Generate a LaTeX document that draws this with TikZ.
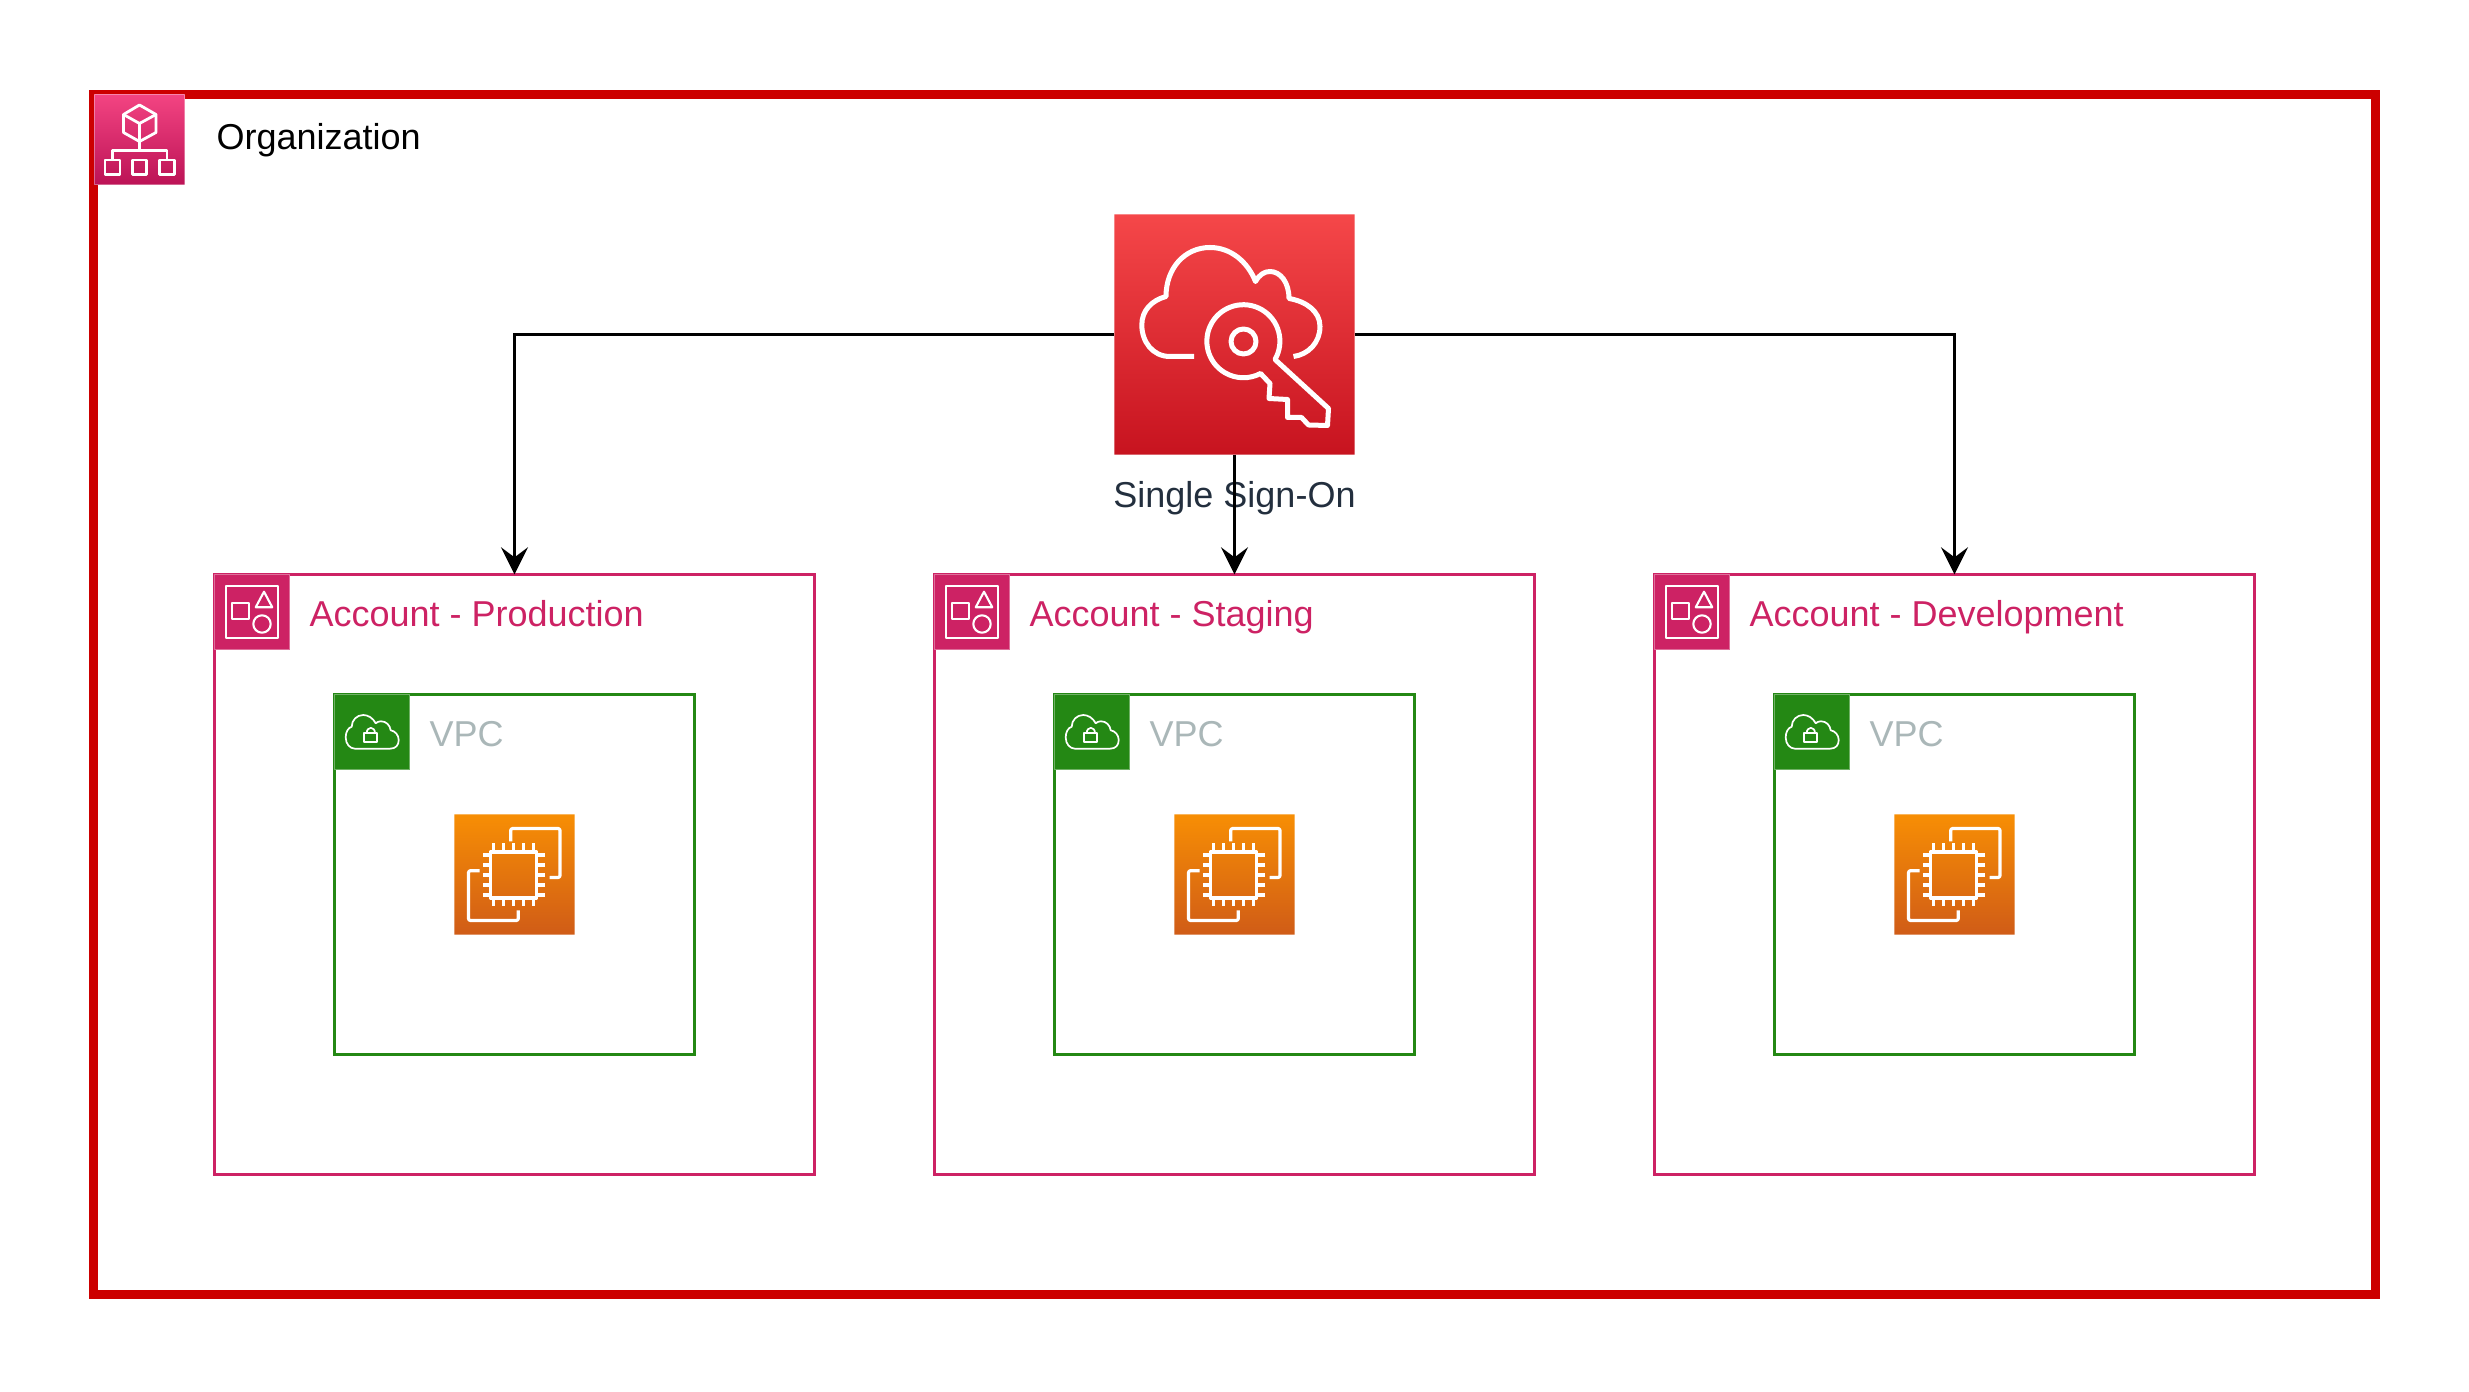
\documentclass[tikz,border=0pt]{standalone}
\usepackage{fontspec}
\setmainfont{Liberation Sans}
\usepackage{xcolor}
\usepackage{tikz}
\usetikzlibrary{arrows.meta}

\definecolor{orgred}{HTML}{CC0000}
\definecolor{acctpink}{HTML}{CD2264}
\definecolor{vpcgreen}{HTML}{248814}
\definecolor{vpcgrey}{HTML}{AAB7B8}
\definecolor{ssotext}{HTML}{232F3E}

\tikzset{
	txt/.style={inner sep=0pt,outer sep=0pt,anchor=base west,font=\fontsize{10.24}{12}\selectfont},
	frame/.style={draw,fill=white,outer sep=0pt,inner sep=0pt,line width=.03cm},
	orgbox/.style={frame,draw=orgred,line width=.09cm,minimum width=22.8cm,minimum height=12cm},
	acctbox/.style={frame,draw=acctpink,minimum size=6cm},
	vpcbox/.style={frame,draw=vpcgreen,minimum size=3.6cm},
	icon/.style={outer sep=0pt,inner sep=0pt,draw=white,draw opacity=.35,line width=.01cm},
	orgicon/.style={icon,minimum size=.9cm,top color=orgtop,bottom color=orgbot},
	ssoicon/.style={icon,minimum size=2.4cm,top color=ssotop,bottom color=ssobot},
	ec2icon/.style={icon,minimum size=1.2cm,top color=ec2top,bottom color=ec2bot},
	accticon/.style={icon,minimum size=.75cm,fill=acctpink},
	vpcicon/.style={icon,minimum size=.75cm,fill=vpcgreen},
	link/.style={draw=black,line width=.03cm,-{Stealth[length=.27cm,width=.27cm,inset=.1cm]}},
	glyph/.style={draw=white,line join=round,line width=.028cm},
	orgglyph/.pic={
		\draw[glyph] (0,-34.5) -- (16.5,-25) -- (16.5,-7) -- (0,2) -- (-16,-7) -- (-16,-25) -- cycle;
		\draw[glyph] (-16,-25) -- (0,-16) -- (16.5,-25);
		\draw[glyph] (0,-16) -- (0,11);
		\draw[glyph] (-27,20.5) -- (-27,11) -- (27.5,11) -- (27.5,20.5);
		\draw[glyph] (-34.5,20.5) rectangle (-19.5,35);
		\draw[glyph] (-7,20.5) rectangle (7,35);
		\draw[glyph] (20,20.5) rectangle (35,35);
	},
	ssoglyph/.pic={
		\draw[glyph,line width=.05cm] (-40.5,22) -- (-64.5,22)
			.. controls (-82,22) and (-92.7,7) .. (-92.7,-9.5)
			.. controls (-92.7,-24) and (-83,-34) .. (-68.5,-38)
			.. controls (-68.5,-66) and (-50,-87) .. (-24.5,-87)
			.. controls (-4,-87) and (13,-73) .. (21,-53)
			.. controls (25,-60) and (30,-63) .. (35.5,-63)
			.. controls (46,-63) and (54.5,-52) .. (54.5,-36)
			.. controls (72,-33) and (85.5,-23) .. (85.5,-8)
			.. controls (85.5,8) and (74,20) .. (59,22);
		\draw[glyph,line width=.05cm] (9,7) circle[radius=.125cm];
		\draw[glyph,line width=.05cm] (40.5,25) arc[start angle=-30,end angle=298,radius=.365cm]
			-- (35.5,49) -- (34.5,64) -- (53,65) -- (53,83) -- (67,83) -- (74,90.5) -- (93,91) -- (94,74) -- cycle;
	},
	ec2glyph/.pic={
		\draw[glyph,line width=.032cm] (-24,-22.5) rectangle (22,23.5);
		\foreach \k in {-20,-10,0,10,20} {
			\draw[glyph,line width=.032cm] (\k-1,-22.5) -- (\k-1,-31);
			\draw[glyph,line width=.032cm] (\k-1,23.5) -- (\k-1,32);
			\draw[glyph,line width=.032cm] (-24,\k+.5) -- (-32,\k+.5);
			\draw[glyph,line width=.032cm] (22,\k+.5) -- (30,\k+.5);
		}
		\draw[glyph,line width=.032cm,rounded corners=.02cm] (-3.8,-33) -- (-3.8,-46) -- (45.5,-46) -- (45.5,3) -- (35,3);
		\draw[glyph,line width=.032cm,rounded corners=.02cm] (-35,-3.8) -- (-46,-3.8) -- (-46,46) -- (3.8,46) -- (3.8,36);
	},
	acctglyph/.pic={
		\draw[glyph,line width=.021cm] (-26,-26) rectangle (26.3,26.3);
		\draw[glyph,line width=.021cm] (-19.7,-8.7) rectangle (-2.7,7.3);
		\draw[glyph,line width=.021cm] (12,-20.3) -- (20.3,-4.7) -- (3.7,-4.7) -- cycle;
		\draw[glyph,line width=.021cm] (10,12) circle[radius=.087cm];
	},
	vpcglyph/.pic={
		\draw[glyph,line width=.017cm] (-17,16.7) -- (18,16.7)
			.. controls (24,16.7) and (26.7,13) .. (26.7,8)
			.. controls (26.7,3) and (23,-1) .. (18.7,-1.7)
			.. controls (18,-7) and (14,-10.7) .. (9,-10.7)
			.. controls (7,-10.7) and (5,-10) .. (3.7,-8.7)
			.. controls (1,-14) and (-4,-17) .. (-8.7,-17)
			.. controls (-15,-17) and (-20.3,-12) .. (-20.3,-5.3)
			.. controls (-24,-4) and (-26.3,0) .. (-26.3,5.5)
			.. controls (-26.3,12) and (-22,16.7) .. (-17,16.7) -- cycle;
		\draw[glyph,line width=.017cm] (-7.7,1.3) rectangle (5.3,9.7);
		\draw[glyph,line width=.017cm] (-5.3,1.3) .. controls (-5.3,-6) and (3,-6) .. (3,1.3);
	},
}
\definecolor{orgtop}{HTML}{F34482}
\definecolor{orgbot}{HTML}{BC1356}
\definecolor{ssotop}{HTML}{F54749}
\definecolor{ssobot}{HTML}{C7131F}
\definecolor{ec2top}{HTML}{F78E04}
\definecolor{ec2bot}{HTML}{D05C17}

\begin{document}
\begin{tikzpicture}[x=.01cm,y=-.01cm]
	\useasboundingbox (0,0) rectangle (2469,1392);
	% organization
	\node[orgbox] (org) at (1234.5,694.5) {};
	\node[orgicon] (orgi) at (139.5,139.5) {};
	\pic at (orgi.center) {orgglyph};
	\node[txt] (orgt) at (216.5,150) {Organization};
	% accounts
	\node[acctbox] (acca) at (514.5,874.5) {};
	\node[acctbox] (accb) at (1234.5,874.5) {};
	\node[acctbox] (accc) at (1954.5,874.5) {};
	\node[accticon] (aicona) at (252,612) {};
	\node[accticon] (aiconb) at (972,612) {};
	\node[accticon] (aiconc) at (1692,612) {};
	\pic at (aicona.center) {acctglyph};
	\pic at (aiconb.center) {acctglyph};
	\pic at (aiconc.center) {acctglyph};
	\node[txt,text=acctpink] (atexta) at (309.5,627) {Account - Production};
	\node[txt,text=acctpink] (atextb) at (1029.5,627) {Account - Staging};
	\node[txt,text=acctpink] (atextc) at (1749.5,627) {Account - Development};
	% vpcs
	\node[vpcbox] (vpca) at (514.5,874.5) {};
	\node[vpcbox] (vpcb) at (1234.5,874.5) {};
	\node[vpcbox] (vpcc) at (1954.5,874.5) {};
	\node[vpcicon] (vicona) at (372,732) {};
	\node[vpcicon] (viconb) at (1092,732) {};
	\node[vpcicon] (viconc) at (1812,732) {};
	\pic at (vicona.center) {vpcglyph};
	\pic at (viconb.center) {vpcglyph};
	\pic at (viconc.center) {vpcglyph};
	\node[txt,text=vpcgrey] (vtexta) at (429.5,747) {VPC};
	\node[txt,text=vpcgrey] (vtextb) at (1149.5,747) {VPC};
	\node[txt,text=vpcgrey] (vtextc) at (1869.5,747) {VPC};
	% instances
	\node[ec2icon] (ec2a) at (514.5,874.5) {};
	\node[ec2icon] (ec2b) at (1234.5,874.5) {};
	\node[ec2icon] (ec2c) at (1954.5,874.5) {};
	\pic at (ec2a.center) {ec2glyph};
	\pic at (ec2b.center) {ec2glyph};
	\pic at (ec2c.center) {ec2glyph};
	% sign-on
	\node[ssoicon] (sso) at (1234.5,334.5) {};
	\pic at (sso.center) {ssoglyph};
	\node[txt,anchor=base,text=ssotext] (ssot) at (1234.5,507.5) {Single Sign-On};
	\draw[link] (sso.west) -| (acca.north);
	\draw[link] (sso.south) -- (accb.north);
	\draw[link] (sso.east) -| (accc.north);
\end{tikzpicture}
\end{document}
